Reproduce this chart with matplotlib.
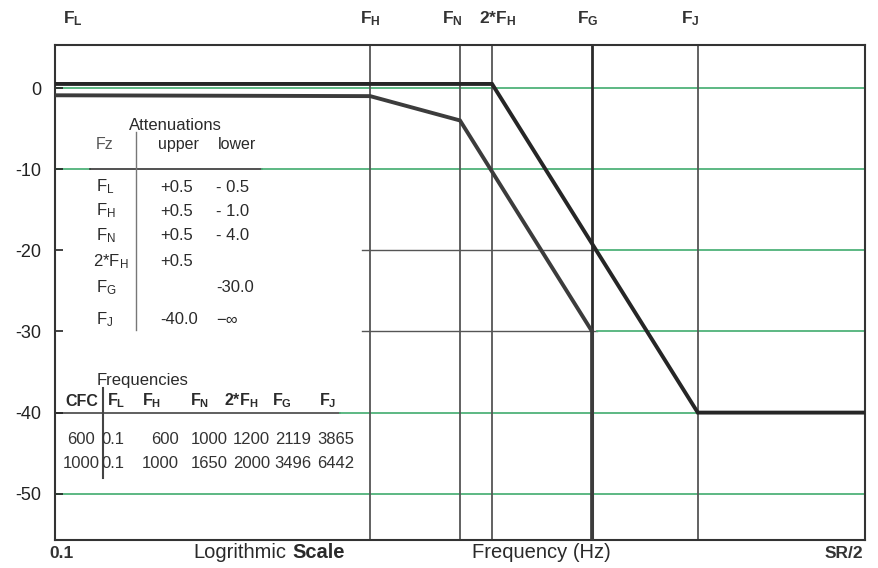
import numpy as np
import matplotlib
matplotlib.use("Agg")
import matplotlib.pyplot as plt
from matplotlib.lines import Line2D

plt.rcParams['font.family'] = ['Liberation Sans', 'DejaVu Sans']
plt.rcParams['mathtext.fontset'] = 'custom'
plt.rcParams['mathtext.rm'] = 'Liberation Sans'
plt.rcParams['mathtext.it'] = 'Liberation Sans'
plt.rcParams['mathtext.bf'] = 'Liberation Sans:bold'
plt.rcParams['mathtext.default'] = 'regular'
plt.rcParams['axes.unicode_minus'] = False

# ---------------- data ----------------
point_names = ['L', 'H', 'N', '2H', 'G', 'J']
point_prefix = ['', '', '', '2*', '', '']
point_sub = ['L', 'H', 'N', 'H', 'G', 'J']
upper_att = [0.5, 0.5, 0.5, 0.5, None, -40.0]
lower_att = [-0.5, -1.0, -4.0, None, -30.0, -np.inf]
upper_txt = ['+0.5', '+0.5', '+0.5', '+0.5', '', '-40.0']
lower_txt = ['- 0.5', '- 1.0', '- 4.0', '', '-30.0', '\u2212\u221e']

cfc_classes = [600, 1000]
freq_cfc600 = [0.1, 600, 1000, 1200, 2119, 3865]
freq_cfc1000 = [0.1, 1000, 1650, 2000, 3496, 6442]

x_low, sr_half = 100, 10000     # visible axis range (schematic log scale)
y_ticks = [0, -10, -20, -30, -40, -50]
y_lim = (-55.7, 5.3)


def lab(i, bold=False):
    if bold:
        pre = r'\mathbf{%s}' % point_prefix[i].replace('*', r'{*}') if point_prefix[i] else ''
        return r'$%s\mathbf{F}_{\mathbf{%s}}$' % (pre, point_sub[i])
    return r'%sF$_{%s}$' % (point_prefix[i], point_sub[i])


W, H = 879, 568
fig = plt.figure(figsize=(W / 100, H / 100), dpi=100)
ax = fig.add_axes([55 / W, 1 - 540 / H, 810 / W, 495 / H])
ax.set_xscale('log')
ax.set_xlim(x_low, sr_half)
ax.set_ylim(*y_lim)

green = '#4fb27a'


def fx(px):
    return (px - 55) / 810


# horizontal grid lines
for y in y_ticks:
    if y in (-20, -30):
        ax.axhline(y, xmin=fx(362), xmax=fx(597), color='#555555', lw=1.0, zorder=1)
        ax.axhline(y, xmin=fx(597), xmax=1, color=green, lw=1.3, zorder=1)
    elif y == -10:
        ax.axhline(y, xmin=0, xmax=fx(90), color=green, lw=1.3, zorder=1)
        ax.axhline(y, xmin=fx(90), xmax=fx(262), color='#333333', lw=1.2, zorder=1)
        ax.axhline(y, xmin=fx(262), xmax=1, color=green, lw=1.3, zorder=1)
    elif y == -40:
        ax.axhline(y, xmin=0, xmax=fx(340), color='#444444', lw=1.2, zorder=1)
        ax.axhline(y, xmin=fx(340), xmax=1, color=green, lw=1.3, zorder=1)
    else:
        ax.axhline(y, color=green, lw=1.3, zorder=1)

# vertical lines at corner frequencies (CFC 600)
for i, f in enumerate(freq_cfc600[1:], start=1):
    if point_names[i] == 'G':
        ax.axvline(f, color='#2a2a2a', lw=2.0, zorder=2)
    else:
        ax.axvline(f, color='#555555', lw=1.3, zorder=2)

# upper corridor
ux = [f for f, a in zip(freq_cfc600, upper_att) if a is not None] + [sr_half]
uy = [a for a in upper_att if a is not None] + [upper_att[-1]]
ax.plot(ux, uy, color='#262626', lw=2.8, solid_joinstyle='miter', zorder=4)

# lower corridor (drops to -inf after F_G)
lx, ly = [], []
for f, a in zip(freq_cfc600, lower_att):
    if a is None:
        continue
    if np.isinf(a):
        lx.append(lx[-1])
        ly.append(y_lim[0] - 5)
    else:
        lx.append(f)
        ly.append(a)
ax.plot(lx, ly, color='#3c3c3c', lw=2.8, solid_joinstyle='miter', zorder=4)

# axes styling
for s in ax.spines.values():
    s.set_color('#333333')
    s.set_linewidth(1.5)
ax.set_yticks(y_ticks)
ax.set_yticklabels([str(v) for v in y_ticks])
ax.tick_params(axis='y', direction='in', length=6, width=1.2, pad=10,
               labelsize=13, colors='#222222')
ax.set_xticks([])
ax.xaxis.set_minor_locator(matplotlib.ticker.NullLocator())


def t(px, py, s, ha='left', size=11, weight='normal', color='#2a2a2a'):
    fig.text(px / W, 1 - py / H, s, ha=ha, va='center', fontsize=size,
             fontweight=weight, color=color)


# top labels
top_px = [73, 370, 452, 498, 588, 690]
for i, px in enumerate(top_px):
    t(px, 19, lab(i, bold=True), ha='center', size=12.5, color='#333333')

# bottom labels
t(62, 553, '0.1', ha='center', size=12.5, weight='bold', color='#333333')
t(286, 553, 'Logrithmic', ha='right', size=14.5)
t(292, 553, 'Scale', ha='left', size=14.5, weight='bold')
t(541, 553, 'Frequency (Hz)', ha='center', size=14.5)
t(863, 553, 'SR/2', ha='right', size=12.5, weight='bold', color='#333333')

# attenuation table
t(175, 125, 'Attenuations', ha='center', size=12)
t(96, 145, 'Fz', size=11.5, color='#555555')
t(158, 145, 'upper', size=11.5)
t(218, 145, 'lower', size=11.5)
row_y = [187, 211, 236, 262, 288, 320]
for i, (y, u, l) in enumerate(zip(row_y, upper_txt, lower_txt)):
    t(93 if point_prefix[i] else 96, y, lab(i), size=12)
    t(160, y, u, size=12)
    t(216, y, l, size=12)
fig.add_artist(Line2D([136 / W, 136 / W], [1 - 132 / H, 1 - 330 / H],
                      color='#777777', lw=1.0))

# frequencies table
t(97, 380, 'Frequencies', size=12)
t(65, 401, 'CFC', size=11.5, weight='bold')
head_px = [107, 142, 190, 224, 272, 319]
for i, px in enumerate(head_px):
    t(px, 401, lab(i), size=11.5, weight='bold')
col_right = [124, 179, 228, 270, 311, 354]
for y, cfc, freqs in zip([439, 464], cfc_classes, [freq_cfc600, freq_cfc1000]):
    t(95 if cfc < 1000 else 100, y, str(cfc), ha='right', size=12, color='#333333')
    for px, f in zip(col_right, freqs):
        t(px, y, f'{f:g}', ha='right', size=12, color='#333333')
fig.add_artist(Line2D([103 / W, 103 / W], [1 - 388 / H, 1 - 478 / H],
                      color='#444444', lw=1.5))

fig.savefig('out.png', dpi=100)
